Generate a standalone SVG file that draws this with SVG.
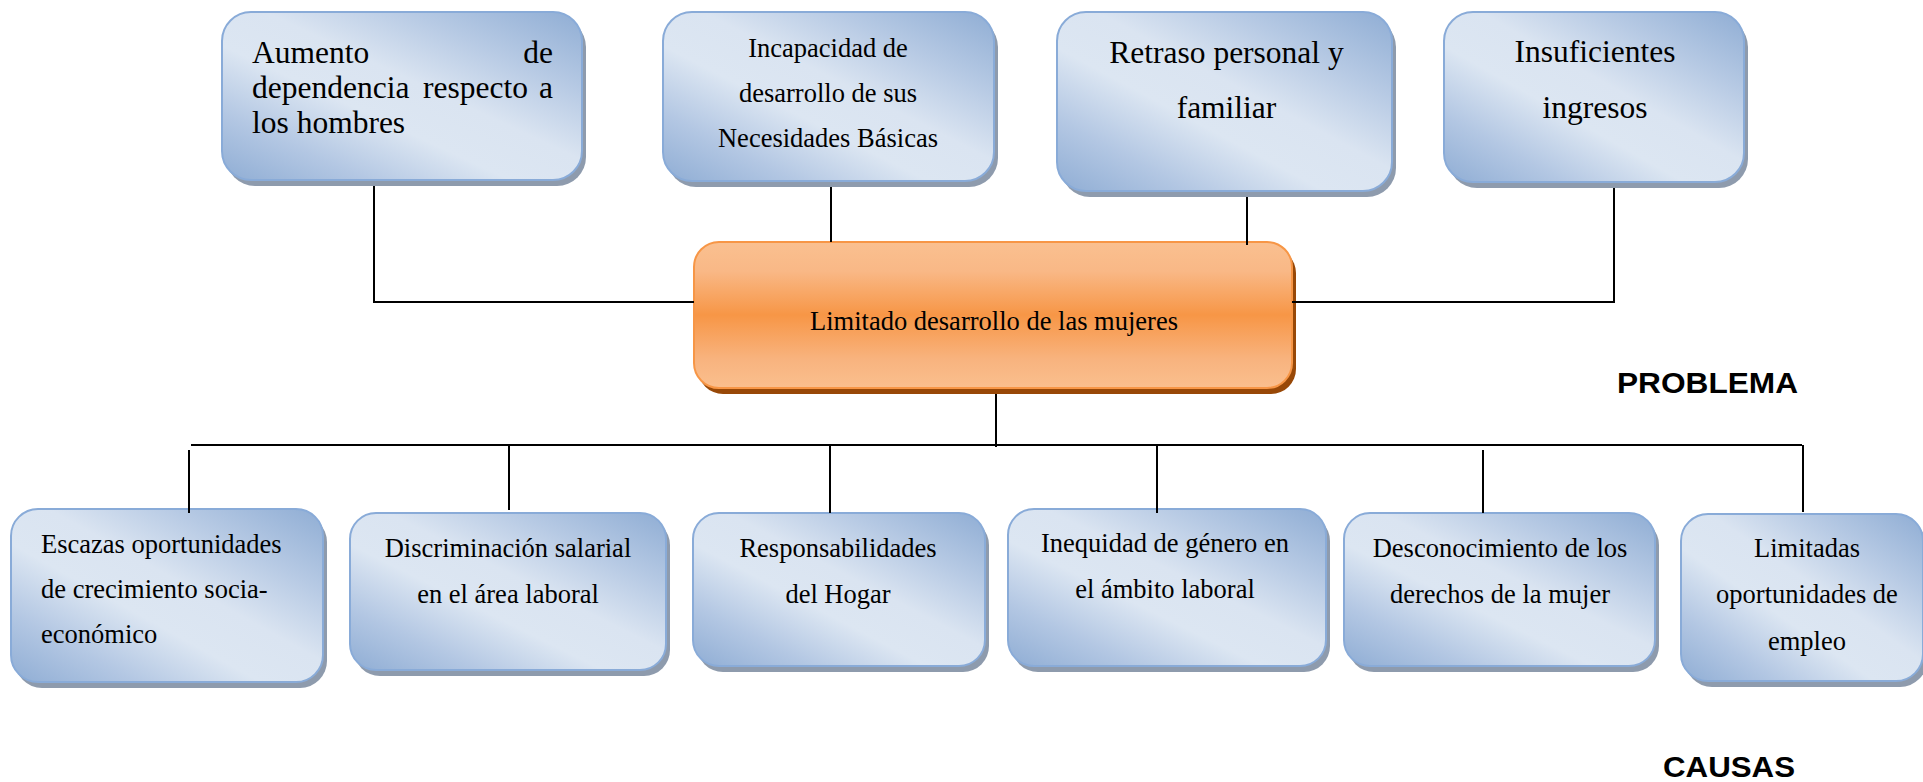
<svg xmlns="http://www.w3.org/2000/svg" width="1923" height="782" viewBox="0 0 1923 782">
  <style>
    .face { fill: url(#blueFill); stroke: #89abd8; stroke-width: 2; }
    .shadow { fill: #8e9bad; }
    .core { fill: url(#orangeFill); stroke: #f79646; stroke-width: 2; }
    .coreShadow { fill: #984807; }
    .big { font-family: "Liberation Serif", "Times New Roman", serif; font-size: 31.5px; fill: #000; }
    .small { font-family: "Liberation Serif", "Times New Roman", serif; font-size: 26.5px; fill: #000; }
    .mid { text-anchor: middle; }
    .tag { font-family: "Liberation Sans", Arial, sans-serif; font-weight: bold; font-size: 29px; fill: #000; }
    .wire { fill: none; stroke: #000; stroke-width: 2; }
  </style>
  <defs>
    <linearGradient id="blueFill" x1="1" y1="0" x2="0" y2="1">
      <stop offset="0" stop-color="#8fadd4"/>
      <stop offset="0.24" stop-color="#b7cae4"/>
      <stop offset="0.44" stop-color="#dae4f1"/>
      <stop offset="0.6" stop-color="#dce6f2"/>
      <stop offset="0.8" stop-color="#b3c7e3"/>
      <stop offset="1" stop-color="#8fadd4"/>
    </linearGradient>
    <linearGradient id="orangeFill" x1="0" y1="0" x2="0" y2="1">
      <stop offset="0" stop-color="#fac090"/>
      <stop offset="0.2" stop-color="#f9b886"/>
      <stop offset="0.5" stop-color="#f79646"/>
      <stop offset="0.8" stop-color="#f8b37e"/>
      <stop offset="1" stop-color="#fabf8e"/>
    </linearGradient>
  </defs>

  <!-- Effects (top row) -->
  <g id="effect-dependencia">
    <rect class="shadow" x="226" y="18" width="360" height="168" rx="29"/>
    <rect class="face" x="222" y="12" width="360" height="168" rx="29"/>
    <text class="big" y="63"><tspan x="252">Aumento</tspan><tspan x="553" text-anchor="end">de</tspan></text>
    <text class="big" y="98"><tspan x="252">dependencia</tspan><tspan x="423">respecto</tspan><tspan x="553" text-anchor="end">a</tspan></text>
    <text class="big" x="252" y="133">los hombres</text>
  </g>

  <g id="effect-necesidades">
    <rect class="shadow" x="667" y="18" width="331" height="169" rx="29"/>
    <rect class="face" x="663" y="12" width="331" height="169" rx="29"/>
    <text class="small mid" x="828" y="57">Incapacidad de</text>
    <text class="small mid" x="828" y="102">desarrollo de sus</text>
    <text class="small mid" x="828" y="147">Necesidades Básicas</text>
  </g>

  <g id="effect-retraso">
    <rect class="shadow" x="1061" y="18" width="335" height="179" rx="29"/>
    <rect class="face" x="1057" y="12" width="335" height="179" rx="29"/>
    <text class="big mid" x="1226.5" y="63">Retraso personal y</text>
    <text class="big mid" x="1226.5" y="118">familiar</text>
  </g>

  <g id="effect-ingresos">
    <rect class="shadow" x="1448" y="18" width="300" height="170" rx="29"/>
    <rect class="face" x="1444" y="12" width="300" height="170" rx="29"/>
    <text class="big mid" x="1595" y="62">Insuficientes</text>
    <text class="big mid" x="1595" y="118">ingresos</text>
  </g>

  <!-- Central problem -->
  <g id="problem">
    <rect class="coreShadow" x="698" y="248" width="598" height="146" rx="25"/>
    <rect class="core" x="694" y="242" width="598" height="146" rx="25"/>
    <text class="small mid" x="994" y="330">Limitado desarrollo de las mujeres</text>
  </g>

  <!-- Causes (bottom row) -->
  <g id="cause-crecimiento">
    <rect class="shadow" x="15" y="515" width="312" height="173" rx="27"/>
    <rect class="face" x="11" y="509" width="312" height="173" rx="27"/>
    <text class="small" x="41" y="553">Escazas oportunidades</text>
    <text class="small" x="41" y="598">de crecimiento socia-</text>
    <text class="small" x="41" y="643">económico</text>
  </g>

  <g id="cause-salarial">
    <rect class="shadow" x="354" y="519" width="316" height="157" rx="26"/>
    <rect class="face" x="350" y="513" width="316" height="157" rx="26"/>
    <text class="small mid" x="508" y="557">Discriminación salarial</text>
    <text class="small mid" x="508" y="603">en el área laboral</text>
  </g>

  <g id="cause-hogar">
    <rect class="shadow" x="697" y="519" width="292" height="153" rx="26"/>
    <rect class="face" x="693" y="513" width="292" height="153" rx="26"/>
    <text class="small mid" x="838" y="557">Responsabilidades</text>
    <text class="small mid" x="838" y="603">del Hogar</text>
  </g>

  <g id="cause-inequidad">
    <rect class="shadow" x="1012" y="515" width="318" height="157" rx="26"/>
    <rect class="face" x="1008" y="509" width="318" height="157" rx="26"/>
    <text class="small mid" x="1165" y="552">Inequidad de género en</text>
    <text class="small mid" x="1165" y="598">el ámbito laboral</text>
  </g>

  <g id="cause-derechos">
    <rect class="shadow" x="1348" y="519" width="311" height="153" rx="26"/>
    <rect class="face" x="1344" y="513" width="311" height="153" rx="26"/>
    <text class="small mid" x="1500" y="557">Desconocimiento de los</text>
    <text class="small mid" x="1500" y="603">derechos de la mujer</text>
  </g>

  <g id="cause-empleo">
    <rect class="shadow" x="1685" y="520" width="242" height="167" rx="27"/>
    <rect class="face" x="1681" y="514" width="242" height="167" rx="27"/>
    <text class="small mid" x="1807" y="557">Limitadas</text>
    <text class="small mid" x="1807" y="603">oportunidades de</text>
    <text class="small mid" x="1807" y="650">empleo</text>
  </g>

  <!-- Section labels -->
  <g id="labels">
    <text class="tag" x="1617" y="393" textLength="181" lengthAdjust="spacingAndGlyphs">PROBLEMA</text>
    <text class="tag" x="1663" y="777" textLength="132" lengthAdjust="spacingAndGlyphs">CAUSAS</text>
  </g>

  <!-- Connectors -->
  <g id="connectors">
    <path class="wire" d="M374 186 V302 H694"/>
    <path class="wire" d="M831 187 V242"/>
    <path class="wire" d="M1247 197 V245"/>
    <path class="wire" d="M1614 188 V302 H1292"/>
    <path class="wire" d="M996 394 V447"/>
    <path class="wire" d="M191 445 H1802"/>
    <path class="wire" d="M189 450 V513"/>
    <path class="wire" d="M509 445 V510"/>
    <path class="wire" d="M830 445 V513"/>
    <path class="wire" d="M1157 445 V513"/>
    <path class="wire" d="M1483 450 V513"/>
    <path class="wire" d="M1803 445 V512"/>
  </g>
</svg>
